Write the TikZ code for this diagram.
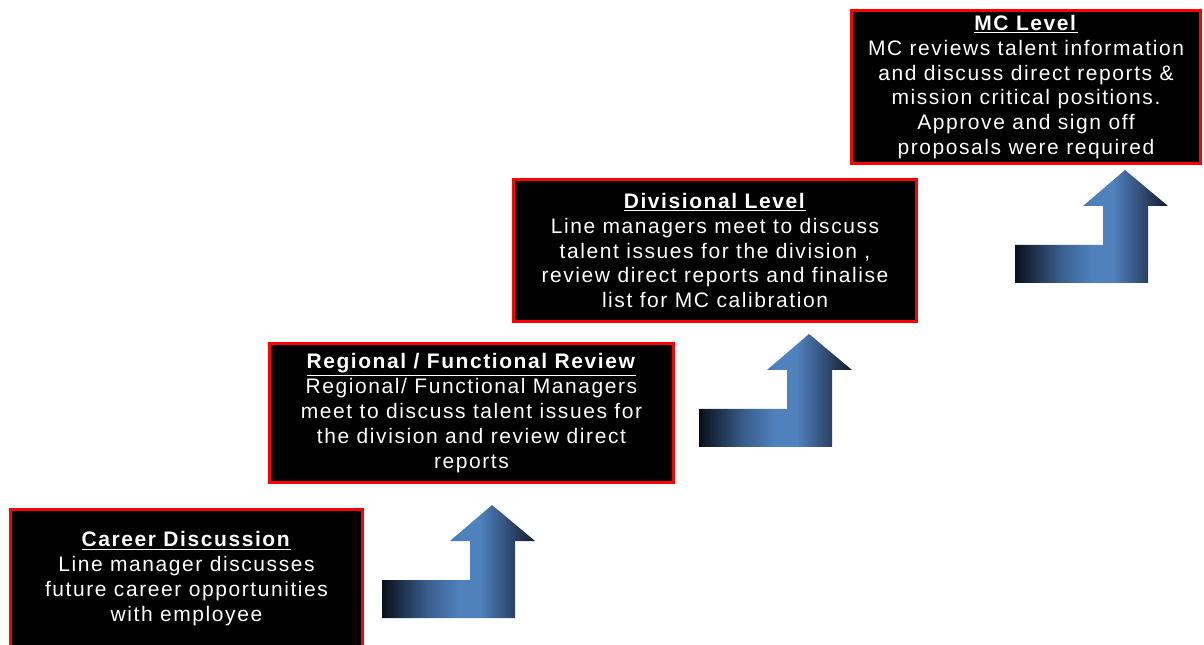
\documentclass[tikz,border=0pt]{standalone}
\usepackage{fontspec}
\setmainfont{Liberation Sans}[LetterSpace=7.5]
\usetikzlibrary{positioning}
\definecolor{stepred}{RGB}{255,0,0}
\definecolor{navyblack}{RGB}{10,16,26}
\definecolor{midnavy}{RGB}{58,95,142}
\definecolor{steelblue}{RGB}{79,129,189}
\definecolor{darknavy}{RGB}{44,66,102}
\definecolor{inkblue}{RGB}{18,27,42}
\pgfdeclarehorizontalshading{stepshade}{100bp}{color(0bp)=(navyblack); color(25bp)=(navyblack); color(40bp)=(midnavy); color(50bp)=(steelblue); color(57bp)=(steelblue); color(68bp)=(darknavy); color(75bp)=(inkblue); color(100bp)=(inkblue)}

\begin{document}
\begin{tikzpicture}[x=0.75pt, y=-0.75pt,
    stage/.style={draw=stepred, line width=2.25pt, fill=black, text=white, align=center, inner sep=0pt, font=\fontsize{15.75}{18.6}\selectfont},
    steparrow/.style={shading=stepshade}]
    \useasboundingbox (0,0) rectangle (1204,645);
    \node[stage, minimum width=264pt, minimum height=104pt] (career) at (186.5,578.5) {\underline{\textbf{Career Discussion}}\\Line manager discusses\\future career opportunities\\with employee};
    \node[stage, minimum width=303pt, minimum height=104pt] (regional) at (471.5,413) {\underline{\textbf{Regional / Functional Review}}\\Regional/ Functional Managers\\meet to discuss talent issues for\\the division and review direct\\reports};
    \node[stage, minimum width=302pt, minimum height=107pt] (divisional) at (715,250.5) {\underline{\textbf{Divisional Level}}\\Line managers meet to discuss\\talent issues for the division ,\\review direct reports and finalise\\list for MC calibration};
    \node[stage, minimum width=262pt, minimum height=115pt] (mclevel) at (1026,87) {\underline{\textbf{MC Level}}\\MC reviews talent information\\and discuss direct reports \&\\mission critical positions.\\Approve and sign off\\proposals were required};
    \coordinate (up1) at (382,618);
    \coordinate (up2) at (699,447);
    \coordinate (up3) at (1015,283);
    \foreach \u in {up1, up2, up3}
        \shade[steparrow] (\u) -- ++(133,0) -- ++(0,-77) -- ++(20,0) -- ++(-43,-36) -- ++(-42,36) -- ++(20,0) -- ++(0,39) -- ++(-88,0) -- cycle;
\end{tikzpicture}
\end{document}
